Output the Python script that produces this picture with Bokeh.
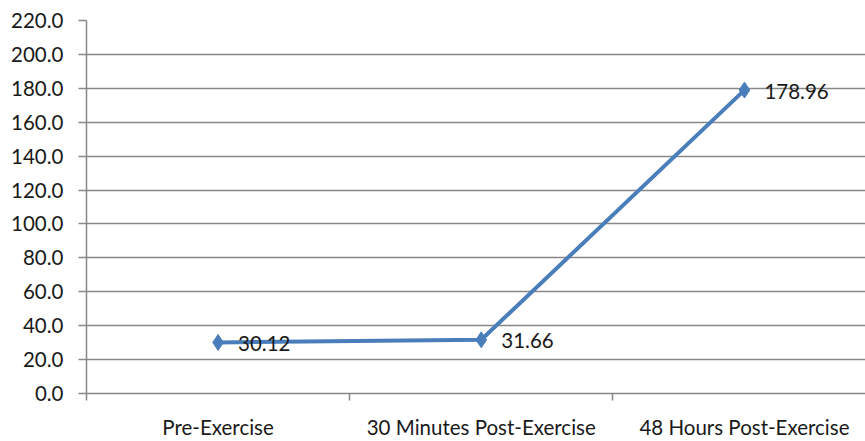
from bokeh.plotting import figure
from bokeh.models import FixedTicker, Range1d, ColumnDataSource, NumeralTickFormatter
from bokeh.embed import file_html
from bokeh.resources import INLINE
from bokeh.core.properties import value

categories = ["Pre-Exercise", "30 Minutes Post-Exercise", "48 Hours Post-Exercise"]
values = [30.12, 31.66, 178.96]
value_labels = ["30.12", "31.66", "178.96"]
y_ticks = [0, 20, 40, 60, 80, 100, 120, 140, 160, 180, 200, 220]

xs = list(range(len(categories)))
src = ColumnDataSource(dict(x=xs, y=values, lab=value_labels))

FONT = "Lato"
FS = "20.5px"
GRID = "#888888"
BLUE = "#4a7ebb"
TXT = "#1a1a1a"

p = figure(width=865, height=441, output_backend="svg", toolbar_location=None,
           x_range=Range1d(-0.5, 2.46), y_range=Range1d(0, 220),
           min_border_left=86, min_border_right=0, min_border_top=20, min_border_bottom=45)
p.outline_line_color = None
p.background_fill_color = "white"

p.line("x", "y", source=src, line_color=BLUE, line_width=4)
p.scatter("x", "y", source=src, marker="diamond", size=16, fill_color=BLUE, line_color=BLUE)
p.text("x", "y", text="lab", source=src, x_offset=20, y_offset=1, text_baseline="middle",
       text_font=value(FONT), text_font_size=FS, text_color=TXT)

# y axis
p.yaxis.ticker = FixedTicker(ticks=y_ticks)
p.yaxis.formatter = NumeralTickFormatter(format="0.0")
p.yaxis.axis_line_color = GRID
p.yaxis.axis_line_width = 1.5
p.yaxis.major_tick_line_color = GRID
p.yaxis.major_tick_line_width = 1.5
p.yaxis.major_tick_out = 8
p.yaxis.major_tick_in = 0
p.yaxis.minor_tick_line_color = None
p.yaxis.major_label_standoff = 15
p.yaxis.major_label_text_font = FONT
p.yaxis.major_label_text_font_size = FS
p.yaxis.major_label_text_color = TXT

# x axis
p.xaxis.ticker = FixedTicker(ticks=xs, minor_ticks=[-0.5, 0.5, 1.5, 2.5])
p.xaxis.major_label_overrides = {i: c for i, c in enumerate(categories)}
p.xaxis.axis_line_color = GRID
p.xaxis.axis_line_width = 1.5
p.xaxis.major_tick_line_color = None
p.xaxis.major_tick_out = 0
p.xaxis.major_tick_in = 0
p.xaxis.minor_tick_line_color = GRID
p.xaxis.minor_tick_line_width = 1.5
p.xaxis.minor_tick_out = 7
p.xaxis.minor_tick_in = 0
p.xaxis.major_label_standoff = 14
p.xaxis.major_label_text_font = FONT
p.xaxis.major_label_text_font_size = FS
p.xaxis.major_label_text_color = TXT

p.xgrid.grid_line_color = None
p.ygrid.ticker = FixedTicker(ticks=y_ticks)
p.ygrid.grid_line_color = GRID
p.ygrid.grid_line_width = 1.5

open("out.html", "w").write(file_html(p, INLINE))
